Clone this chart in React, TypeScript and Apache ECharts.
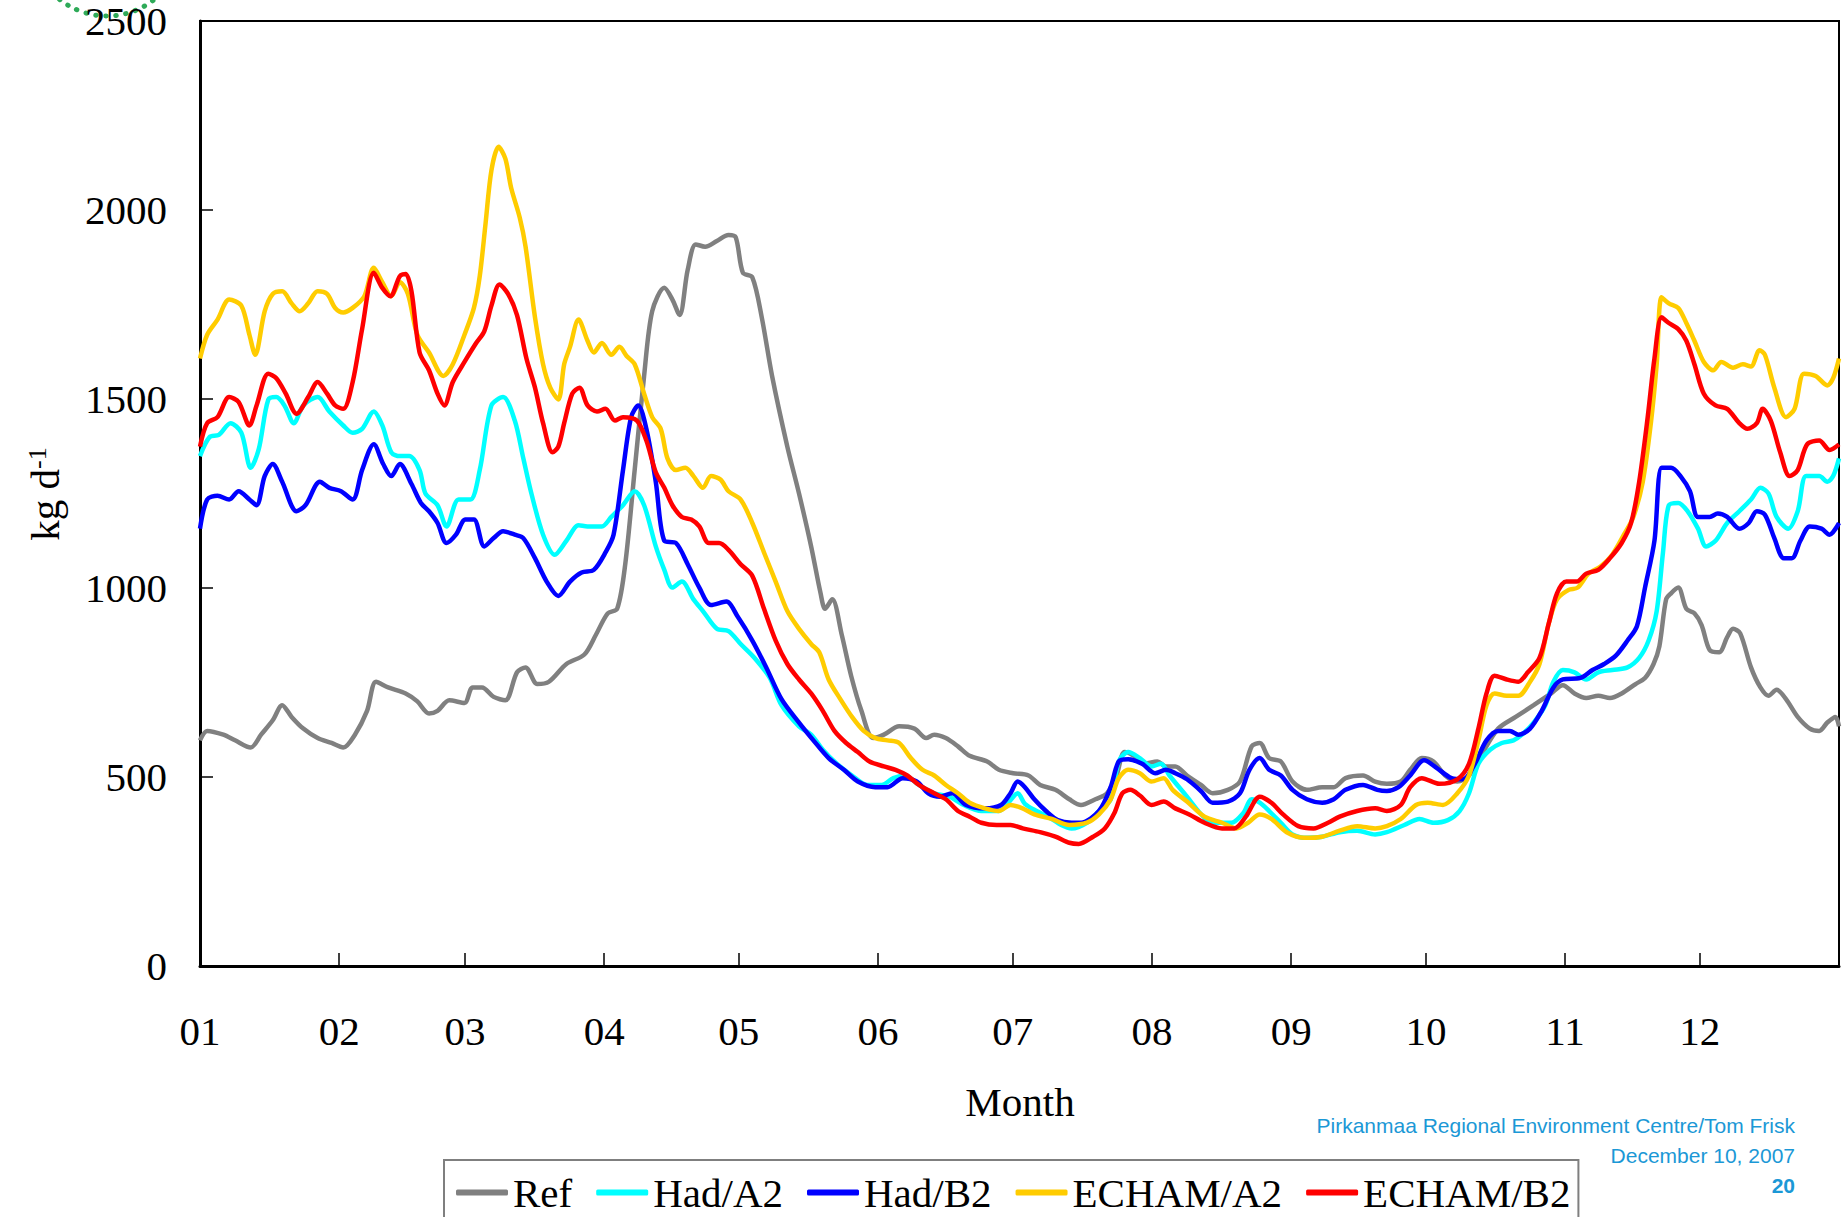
import React, { useEffect, useRef } from "react";
import * as echarts from "echarts";

const MONTH_STARTS = [0, 31, 59, 90, 120, 151, 181, 212, 243, 273, 304, 334];
const MONTH_LABELS = ["01", "02", "03", "04", "05", "06", "07", "08", "09", "10", "11", "12"];
const Y_MIN = 0;
const Y_MAX = 2500;
const Y_STEP = 500;
const SERIES_NAMES = ["Ref", "Had/A2", "Had/B2", "ECHAM/A2", "ECHAM/B2"];
const SERIES_COLORS = ["#808080", "#00ffff", "#0000ff", "#ffcc00", "#ff0000"];

// [day of year (0 = 1 Jan), kg/d]
const REF = [[0,597],[1.6,622],[5.2,612],[7.8,597],[11.3,578],[13.6,612],[16.2,650],[18.3,690],[20.4,659],[23.0,628],[26.2,603],[29.3,590],[31.9,578],[34.5,612],[37.2,675],[39.2,752],[41.9,737],[45.8,721],[48.4,700],[51.0,668],[52.9,675],[55.5,703],[58.9,696],[60.7,737],[62.8,737],[65.4,712],[68.0,703],[70.6,777],[72.5,790],[75.1,746],[77.7,752],[81.6,799],[85.6,824],[88.2,877],[90.8,933],[92.9,945],[94.7,1063],[96.8,1312],[98.9,1561],[100.7,1732],[103.4,1794],[105.2,1763],[106.8,1722],[108.6,1841],[110.4,1909],[112.5,1903],[115.1,1918],[117.7,1934],[119.3,1928],[120.9,1834],[123.0,1822],[125.1,1716],[127.4,1561],[130.8,1374],[133.4,1250],[136.1,1110],[138.2,986],[139.2,945],[140.8,970],[142.9,877],[145.0,768],[147.3,675],[149.9,603],[152.3,612],[155.7,634],[159.1,628],[161.7,603],[163.5,612],[166.1,603],[168.8,581],[171.4,556],[175.3,541],[177.9,519],[181.1,510],[184.5,504],[187.1,479],[190.5,466],[193.6,441],[196.2,426],[199.4,441],[202.0,457],[204.1,504],[205.9,566],[208.0,556],[210.1,535],[213.2,541],[215.1,528],[217.2,528],[219.8,504],[222.9,479],[225.5,457],[228.9,466],[231.6,488],[234.2,581],[236.0,590],[238.1,550],[240.7,541],[243.3,488],[246.5,466],[249.9,473],[252.5,473],[255.1,497],[259.0,504],[261.7,488],[264.3,482],[267.4,488],[269.5,519],[272.1,550],[274.7,541],[277.3,504],[280.0,488],[282.6,504],[285.7,566],[289.1,628],[293.0,659],[297.0,690],[300.9,721],[303.5,743],[306.1,721],[308.7,709],[311.4,715],[314.0,709],[316.6,721],[319.7,746],[321.8,762],[323.7,799],[325.0,846],[326.5,970],[327.6,986],[329.2,1001],[331.0,945],[332.8,933],[334.4,902],[336.2,836],[338.3,830],[340.1,870],[341.4,892],[343.0,880],[345.4,790],[347.5,737],[349.3,715],[351.1,731],[353.2,706],[355.8,659],[358.5,628],[360.6,622],[362.4,644],[364.2,659],[365,634]];

const HAD_A2 = [[0,1349],[2.1,1399],[4.2,1405],[6.8,1436],[9.2,1411],[11.3,1318],[13.1,1368],[15.2,1498],[17.0,1505],[18.8,1483],[20.9,1436],[23.0,1483],[26.2,1505],[28.8,1467],[31.9,1430],[34.0,1411],[36.1,1421],[38.7,1467],[40.6,1430],[42.6,1359],[44.5,1349],[46.6,1349],[48.9,1312],[50.2,1250],[52.9,1219],[54.9,1163],[57.6,1234],[60.2,1234],[62.3,1312],[64.9,1483],[67.5,1505],[70.1,1443],[72.0,1343],[73.8,1250],[76.4,1141],[79.0,1088],[81.6,1125],[84.3,1166],[86.3,1163],[89.5,1163],[91.6,1188],[94.2,1219],[96.8,1256],[98.9,1219],[101.5,1110],[103.4,1048],[105.2,1001],[107.3,1017],[109.9,970],[112.0,939],[115.1,892],[117.7,886],[120.4,852],[123.5,815],[126.9,762],[129.5,690],[133.4,634],[136.1,612],[138.7,572],[141.8,535],[145.2,504],[148.6,479],[151.8,479],[154.4,497],[157.0,504],[160.1,479],[163.5,457],[166.9,448],[170.1,426],[174.0,410],[177.9,410],[180.0,432],[182.1,457],[183.7,429],[186.3,410],[188.9,395],[191.8,373],[194.1,364],[197.5,379],[200.2,410],[202.8,441],[204.6,541],[206.7,566],[209.3,550],[211.9,528],[214.0,535],[215.9,504],[219.8,448],[223.7,392],[226.3,379],[229.7,379],[232.3,404],[234.2,441],[236.0,432],[238.1,410],[240.7,379],[243.3,348],[246.5,339],[249.9,342],[253.8,354],[257.7,358],[261.7,348],[264.3,354],[268.2,373],[271.6,389],[274.7,379],[277.9,386],[280.5,410],[282.6,457],[284.7,535],[287.3,572],[289.9,590],[292.5,597],[294.4,612],[297.0,644],[299.6,690],[301.4,752],[303.5,783],[306.1,777],[308.7,758],[311.4,777],[314.5,783],[317.9,790],[320.5,815],[322.6,861],[324.4,939],[325.8,1094],[327.1,1219],[329.2,1225],[331.3,1203],[333.6,1157],[335.4,1110],[337.5,1125],[340.1,1172],[342.8,1203],[345.4,1234],[347.5,1265],[349.3,1250],[351.1,1188],[353.7,1157],[355.8,1203],[357.7,1296],[360.6,1296],[362.4,1281],[363.7,1296],[365,1343]];

const HAD_B2 = [[0,1157],[1.6,1234],[3.9,1244],[6.5,1234],[8.6,1256],[11.0,1234],[12.6,1219],[14.4,1296],[16.2,1328],[18.3,1281],[21.5,1203],[23.5,1219],[26.7,1281],[28.8,1265],[31.4,1256],[34.0,1234],[36.1,1312],[38.7,1380],[40.8,1328],[42.6,1296],[44.5,1328],[47.1,1275],[49.2,1225],[51.0,1203],[52.9,1172],[54.9,1119],[57.0,1141],[59.1,1181],[61.0,1181],[63.3,1110],[65.4,1132],[67.5,1150],[70.1,1141],[72.0,1132],[74.6,1079],[77.2,1017],[79.8,979],[82.4,1017],[85.0,1041],[87.7,1048],[90.3,1094],[92.1,1141],[94.2,1312],[96.0,1452],[97.6,1483],[99.4,1421],[101.5,1281],[103.4,1125],[106.0,1119],[108.6,1063],[111.2,1001],[113.8,955],[117.2,964],[119.8,923],[123.0,861],[126.1,790],[129.5,706],[133.4,644],[136.6,597],[140.0,550],[143.4,519],[146.5,488],[150.4,473],[153.1,473],[156.5,497],[159.6,488],[162.2,457],[164.8,448],[167.5,457],[170.6,426],[174.8,417],[178.4,426],[180.5,457],[182.1,488],[183.7,473],[185.8,441],[188.4,410],[191.0,386],[194.1,379],[196.2,379],[200.2,410],[202.8,473],[204.6,541],[206.7,547],[209.8,535],[212.7,510],[215.1,519],[217.2,510],[219.8,494],[222.9,463],[225.5,432],[228.9,435],[231.6,457],[233.7,519],[236.0,550],[238.1,519],[240.7,504],[243.3,466],[246.5,441],[249.9,432],[252.5,441],[255.1,466],[259.0,479],[262.2,466],[264.3,463],[266.9,473],[269.5,504],[272.6,544],[275.3,525],[278.7,497],[281.3,494],[283.9,535],[286.5,597],[289.1,622],[291.7,622],[293.6,612],[296.2,628],[298.8,675],[301.4,737],[303.5,758],[307.4,762],[310.1,783],[312.7,799],[315.3,821],[317.9,861],[320.0,899],[321.8,1001],[323.9,1125],[325.5,1318],[327.6,1318],[329.7,1296],[331.8,1256],[333.6,1188],[336.2,1188],[338.0,1197],[340.1,1188],[342.8,1157],[344.9,1172],[346.7,1203],[348.5,1194],[350.6,1132],[352.7,1079],[354.5,1079],[356.4,1125],[358.5,1163],[361.1,1157],[362.9,1141],[365,1172]];

const ECHAM_A2 = [[0,1607],[1.6,1670],[3.9,1710],[6.5,1763],[9.2,1747],[11.0,1670],[12.3,1617],[14.4,1732],[16.2,1778],[18.3,1785],[20.4,1753],[22.2,1732],[24.1,1753],[26.2,1785],[28.3,1778],[30.1,1741],[31.9,1729],[34.0,1741],[36.6,1772],[38.7,1847],[40.6,1809],[42.6,1772],[44.5,1809],[46.3,1778],[48.4,1670],[51.0,1623],[54.2,1561],[56.3,1592],[58.9,1670],[61.0,1741],[62.3,1825],[63.6,1965],[64.9,2105],[66.5,2167],[68.0,2136],[69.3,2058],[71.2,1980],[72.5,1903],[74.6,1716],[76.4,1592],[78.0,1530],[79.8,1499],[81.1,1592],[82.4,1638],[84.3,1710],[86.3,1654],[87.7,1623],[89.5,1648],[91.6,1617],[93.4,1638],[95.0,1614],[96.8,1592],[98.9,1514],[100.7,1452],[102.6,1421],[104.1,1343],[106.0,1312],[108.1,1318],[109.9,1296],[112.0,1265],[113.8,1296],[115.9,1287],[117.7,1256],[120.4,1234],[123.0,1172],[125.6,1094],[128.2,1017],[130.8,939],[133.4,892],[136.1,852],[137.9,830],[140.0,758],[142.6,706],[145.2,659],[147.8,622],[150.4,603],[153.1,597],[155.7,590],[158.3,550],[160.9,519],[163.5,504],[166.1,479],[168.8,457],[171.4,432],[174.8,417],[177.9,410],[180.5,426],[183.2,417],[185.8,401],[189.7,389],[193.6,373],[197.5,379],[200.2,401],[202.8,441],[204.6,497],[206.7,519],[209.3,510],[211.9,488],[214.6,497],[216.6,466],[219.8,435],[223.7,395],[227.6,379],[230.8,364],[233.4,379],[236.0,401],[238.6,389],[242.0,354],[246.0,339],[249.9,342],[253.8,358],[257.7,370],[261.7,364],[264.3,370],[267.4,389],[270.8,426],[273.4,432],[276.8,426],[280.0,457],[282.6,504],[284.7,597],[286.5,690],[288.3,721],[291.0,715],[293.6,715],[296.2,752],[298.3,799],[300.4,908],[302.2,970],[304.8,995],[306.8,1001],[309.2,1038],[311.9,1057],[314.5,1088],[317.1,1141],[319.2,1188],[321.3,1281],[323.1,1436],[324.4,1592],[325.5,1769],[327.1,1753],[329.2,1741],[331.0,1701],[332.8,1654],[334.9,1598],[337.0,1576],[338.8,1598],[341.4,1583],[343.6,1592],[345.4,1586],[347.3,1629],[348.5,1617],[350.6,1530],[353.2,1452],[355.1,1474],[357.2,1567],[359.8,1561],[362.4,1536],[363.7,1555],[365,1607]];

const ECHAM_B2 = [[0,1374],[1.6,1436],[3.9,1452],[6.5,1505],[8.6,1492],[11.0,1430],[12.6,1483],[15.2,1567],[17.0,1555],[19.1,1514],[21.5,1461],[24.1,1505],[26.2,1545],[28.3,1514],[30.1,1483],[31.9,1474],[34.0,1545],[36.1,1685],[38.7,1834],[40.6,1794],[42.4,1772],[44.5,1825],[45.8,1831],[47.1,1785],[48.9,1623],[51.0,1576],[52.9,1514],[54.4,1483],[56.3,1545],[58.9,1598],[61.5,1648],[63.3,1679],[64.9,1747],[66.7,1803],[68.6,1778],[70.6,1722],[72.7,1607],[74.6,1530],[76.4,1436],[78.5,1359],[79.8,1374],[81.1,1436],[82.9,1514],[84.5,1530],[86.3,1483],[88.4,1467],[90.3,1474],[92.4,1443],[94.2,1452],[97.3,1443],[99.4,1390],[101.5,1306],[103.4,1265],[105.2,1219],[107.3,1188],[109.4,1181],[111.2,1163],[113.3,1119],[115.6,1119],[117.7,1101],[120.4,1063],[123.0,1032],[125.6,945],[128.2,861],[130.8,799],[133.4,758],[136.1,721],[138.7,675],[141.3,622],[143.9,590],[146.5,566],[149.1,541],[152.3,528],[154.9,519],[157.5,504],[160.1,479],[163.5,457],[166.1,441],[168.8,410],[171.4,395],[174.0,379],[177.4,373],[180.5,373],[183.2,364],[187.1,354],[190.5,342],[193.6,326],[195.7,323],[198.9,342],[201.5,364],[203.6,404],[205.4,457],[207.2,466],[209.3,451],[211.9,426],[214.6,435],[217.2,417],[220.3,401],[223.7,379],[227.6,364],[230.3,364],[232.9,395],[236.0,448],[238.6,432],[241.2,401],[244.6,370],[248.0,364],[251.2,379],[253.8,395],[257.7,410],[261.7,417],[264.3,410],[267.4,426],[269.5,473],[272.1,497],[276.0,482],[280.0,494],[282.6,535],[284.7,628],[286.5,721],[288.3,768],[291.0,758],[293.6,752],[295.7,777],[298.3,815],[300.4,908],[302.2,986],[304.3,1017],[306.6,1017],[308.7,1038],[311.4,1048],[314.0,1079],[316.6,1119],[318.7,1172],[320.5,1281],[322.4,1452],[323.9,1607],[325.5,1716],[327.1,1701],[329.2,1685],[331.0,1654],[332.8,1592],[334.9,1514],[337.5,1483],[340.1,1474],[342.8,1436],[344.6,1421],[346.7,1436],[348.0,1474],[349.8,1443],[351.9,1359],[354.0,1296],[355.8,1312],[357.9,1380],[360.6,1390],[362.9,1365],[365,1380]];

const SERIES_DATA = [REF, HAD_A2, HAD_B2, ECHAM_A2, ECHAM_B2];

const SERIF = "'Liberation Serif', 'Times New Roman', serif";
const SANS = "'Liberation Sans', Arial, sans-serif";

export default function App() {
  const ref = useRef<HTMLDivElement>(null);

  useEffect(() => {
    if (!ref.current) return;
    const chart = echarts.init(ref.current, null, { renderer: "svg" });
    const monthLabel = (v: number) => {
      const i = MONTH_STARTS.indexOf(Math.round(v));
      return i >= 0 ? MONTH_LABELS[i] : "";
    };
    chart.setOption({
      animation: false,
      backgroundColor: "#ffffff",
      grid: {
        left: 200,
        top: 21,
        right: 4,
        bottom: 251,
        show: true,
        borderColor: "#000",
        borderWidth: 2,
        backgroundColor: "transparent",
      },
      xAxis: {
        type: "value",
        min: 0,
        max: 365,
        axisLine: { show: true, onZero: false, lineStyle: { color: "#000", width: 3 } },
        axisTick: {
          show: true,
          inside: true,
          length: 13,
          customValues: MONTH_STARTS,
          lineStyle: { color: "#000", width: 1.5 },
        },
        axisLabel: {
          customValues: MONTH_STARTS,
          formatter: monthLabel,
          fontFamily: SERIF,
          fontSize: 41,
          color: "#000",
          margin: 44,
        },
        splitLine: { show: false },
      },
      yAxis: {
        type: "value",
        min: Y_MIN,
        max: Y_MAX,
        interval: Y_STEP,
        axisLine: { show: true, lineStyle: { color: "#000", width: 3 } },
        axisTick: { show: true, inside: true, length: 13, lineStyle: { color: "#000", width: 1.5 } },
        axisLabel: {
          fontFamily: SERIF,
          fontSize: 41,
          lineHeight: 34,
          color: "#000",
          margin: 33,
          formatter: (v: number) => String(v),
        },
        splitLine: { show: false },
      },
      legend: {
        data: SERIES_NAMES,
        left: 444,
        top: 1160,
        orient: "horizontal",
        icon: "roundRect",
        itemWidth: 52,
        itemHeight: 6,
        itemGap: 24,
        padding: [12, 8, 30, 12],
        borderColor: "#7f7f7f",
        borderWidth: 2,
        backgroundColor: "#fff",
        textStyle: { fontFamily: SERIF, fontSize: 41, color: "#000" },
      },
      series: SERIES_NAMES.map((name, i) => ({
        name,
        type: "line",
        data: SERIES_DATA[i],
        showSymbol: false,
        symbol: "none",
        smooth: 0.3,
        lineStyle: { color: SERIES_COLORS[i], width: 4.5 },
        itemStyle: { color: SERIES_COLORS[i] },
        z: 2 + i,
      })),
      graphic: [
        {
          type: "circle",
          shape: { cx: 107, cy: -60, r: 76 },
          style: {
            fill: "none",
            stroke: "#2eaa58",
            lineWidth: 5,
            lineDash: [0.5, 9.5],
            lineCap: "round",
          },
          silent: true,
        },
        {
          type: "text",
          x: 1020,
          y: 1102,
          style: {
            text: "Month",
            fontFamily: SERIF,
            fontSize: 41,
            fill: "#000",
            align: "center",
            verticalAlign: "middle",
          },
        },
        {
          type: "text",
          x: 45,
          y: 494,
          rotation: Math.PI / 2,
          style: {
            text: "{a|kg d}{b|-1}",
            align: "center",
            verticalAlign: "middle",
            rich: {
              a: { fontFamily: SERIF, fontSize: 41, fill: "#000", verticalAlign: "bottom" },
              b: { fontFamily: SERIF, fontSize: 26, fill: "#000", verticalAlign: "top" },
            },
          },
        },
        {
          type: "text",
          x: 1795,
          y: 1125,
          style: {
            text: "Pirkanmaa Regional Environment Centre/Tom Frisk",
            fontFamily: SANS,
            fontSize: 21,
            fill: "#1b98d6",
            align: "right",
            verticalAlign: "middle",
          },
        },
        {
          type: "text",
          x: 1795,
          y: 1155,
          style: {
            text: "December 10, 2007",
            fontFamily: SANS,
            fontSize: 21,
            fill: "#1b98d6",
            align: "right",
            verticalAlign: "middle",
          },
        },
        {
          type: "text",
          x: 1795,
          y: 1185,
          style: {
            text: "20",
            fontFamily: SANS,
            fontSize: 21,
            fontWeight: "bold",
            fill: "#1b98d6",
            align: "right",
            verticalAlign: "middle",
          },
        },
      ],
    });
    return () => chart.dispose();
  }, []);

  return (
    <div
      ref={ref}
      style={{ position: "absolute", left: 0, top: 0, width: 1843, height: 1217, background: "#fff" }}
    />
  );
}
